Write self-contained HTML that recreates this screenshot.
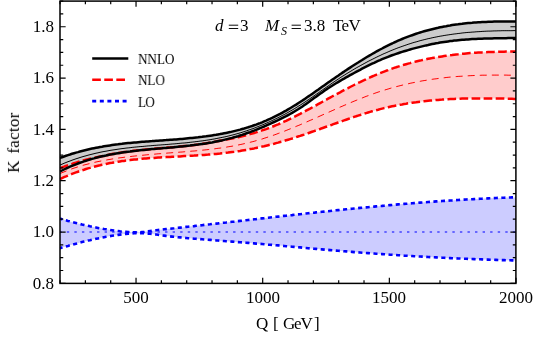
<!DOCTYPE html>
<html><head><meta charset="utf-8"><title>K factor</title>
<style>
html,body{margin:0;padding:0;background:#fff;}
body{width:545px;height:339px;position:relative;overflow:hidden;font-family:"Liberation Serif",serif;color:#000;}
.t{position:absolute;white-space:pre;line-height:1;font-size:16px;will-change:transform;}
.yl{width:40px;text-align:right;left:13.6px;}
.xl{width:60px;text-align:center;}
.lg{font-size:13px;left:137.7px;}
</style></head><body>

<svg width="545" height="339" viewBox="0 0 545 339" style="position:absolute;left:0;top:0">
<defs><clipPath id="cp"><rect x="59.75" y="1.09" width="456.85" height="282.26"/></clipPath></defs>
<g clip-path="url(#cp)" fill="none" stroke-linecap="butt" stroke-linejoin="round">
<path d="M60.0,218.6 62.0,219.2 64.0,219.8 66.0,220.3 68.0,220.9 70.0,221.4 72.0,222.0 74.0,222.5 76.0,223.0 78.0,223.5 80.0,224.0 82.0,224.5 84.0,224.9 86.0,225.4 88.0,225.8 90.0,226.3 92.0,226.7 94.0,227.1 96.0,227.5 98.0,227.9 100.0,228.3 102.0,228.6 104.0,229.0 106.0,229.3 108.0,229.6 110.0,229.9 112.0,230.2 114.0,230.5 116.0,230.8 118.0,231.0 120.0,231.3 122.0,231.5 124.0,231.7 126.0,231.8 128.1,232.0 130.1,232.1 132.1,232.2 134.1,232.2 136.1,232.3 138.1,232.2 140.1,232.2 142.1,232.0 144.1,231.9 146.1,231.6 148.1,231.4 150.1,231.1 152.1,230.8 154.1,230.6 156.1,230.3 158.1,230.0 160.1,229.8 162.1,229.6 164.1,229.3 166.1,229.1 168.1,228.9 170.1,228.7 172.1,228.5 174.1,228.3 176.1,228.0 178.1,227.8 180.1,227.6 182.1,227.4 184.1,227.2 186.1,226.9 188.1,226.7 190.1,226.5 192.1,226.3 194.1,226.1 196.1,225.8 198.1,225.6 200.1,225.4 202.1,225.2 204.1,224.9 206.1,224.7 208.1,224.5 210.1,224.3 212.1,224.0 214.1,223.8 216.1,223.6 218.1,223.4 220.1,223.1 222.1,222.9 224.1,222.7 226.1,222.5 228.1,222.2 230.1,222.0 232.1,221.8 234.1,221.6 236.1,221.3 238.1,221.1 240.1,220.9 242.1,220.7 244.1,220.4 246.1,220.2 248.1,220.0 250.1,219.8 252.1,219.5 254.1,219.3 256.1,219.1 258.1,218.8 260.1,218.6 262.1,218.4 264.1,218.2 266.1,217.9 268.1,217.7 270.1,217.5 272.1,217.3 274.1,217.1 276.1,216.8 278.1,216.6 280.1,216.4 282.1,216.2 284.1,215.9 286.1,215.7 288.1,215.5 290.1,215.3 292.1,215.1 294.1,214.8 296.1,214.6 298.1,214.4 300.1,214.2 302.1,214.0 304.1,213.7 306.1,213.5 308.1,213.3 310.1,213.1 312.1,212.9 314.1,212.7 316.1,212.4 318.1,212.2 320.1,212.0 322.1,211.8 324.1,211.6 326.1,211.4 328.1,211.2 330.1,211.0 332.1,210.8 334.1,210.5 336.1,210.3 338.1,210.1 340.1,209.9 342.1,209.7 344.1,209.5 346.1,209.3 348.1,209.1 350.1,208.9 352.1,208.7 354.1,208.5 356.1,208.3 358.1,208.1 360.1,207.9 362.1,207.7 364.1,207.5 366.1,207.4 368.1,207.2 370.1,207.0 372.1,206.8 374.1,206.6 376.1,206.4 378.1,206.2 380.1,206.0 382.1,205.9 384.1,205.7 386.1,205.5 388.1,205.3 390.1,205.1 392.1,205.0 394.1,204.8 396.1,204.6 398.1,204.4 400.1,204.3 402.1,204.1 404.1,203.9 406.1,203.8 408.1,203.6 410.1,203.4 412.1,203.3 414.1,203.1 416.1,203.0 418.1,202.8 420.1,202.6 422.1,202.5 424.1,202.3 426.1,202.2 428.1,202.0 430.1,201.9 432.1,201.7 434.1,201.6 436.1,201.4 438.1,201.3 440.1,201.2 442.1,201.0 444.1,200.9 446.1,200.8 448.1,200.6 450.1,200.5 452.1,200.4 454.1,200.2 456.1,200.1 458.1,200.0 460.1,199.9 462.1,199.7 464.1,199.6 466.1,199.5 468.1,199.4 470.1,199.3 472.1,199.2 474.1,199.1 476.1,199.0 478.1,198.9 480.1,198.8 482.1,198.7 484.1,198.6 486.1,198.5 488.1,198.4 490.1,198.3 492.1,198.2 494.1,198.1 496.1,198.0 498.1,197.9 500.1,197.9 502.1,197.8 504.1,197.7 506.1,197.6 508.1,197.6 510.1,197.5 512.0,197.4 514.0,197.4 516.0,197.3 L516.0,260.5 514.0,260.4 512.0,260.4 510.1,260.3 508.1,260.3 506.1,260.2 504.1,260.1 502.1,260.1 500.1,260.0 498.1,260.0 496.1,259.9 494.1,259.8 492.1,259.8 490.1,259.7 488.1,259.6 486.1,259.6 484.1,259.5 482.1,259.4 480.1,259.3 478.1,259.3 476.1,259.2 474.1,259.1 472.1,259.0 470.1,259.0 468.1,258.9 466.1,258.8 464.1,258.7 462.1,258.6 460.1,258.5 458.1,258.5 456.1,258.4 454.1,258.3 452.1,258.2 450.1,258.1 448.1,258.0 446.1,257.9 444.1,257.8 442.1,257.7 440.1,257.6 438.1,257.5 436.1,257.4 434.1,257.3 432.1,257.2 430.1,257.1 428.1,257.0 426.1,256.9 424.1,256.7 422.1,256.6 420.1,256.5 418.1,256.4 416.1,256.3 414.1,256.2 412.1,256.0 410.1,255.9 408.1,255.8 406.1,255.7 404.1,255.6 402.1,255.4 400.1,255.3 398.1,255.2 396.1,255.0 394.1,254.9 392.1,254.8 390.1,254.7 388.1,254.5 386.1,254.4 384.1,254.2 382.1,254.1 380.1,254.0 378.1,253.8 376.1,253.7 374.1,253.5 372.1,253.4 370.1,253.3 368.1,253.1 366.1,253.0 364.1,252.8 362.1,252.7 360.1,252.5 358.1,252.4 356.1,252.2 354.1,252.1 352.1,251.9 350.1,251.7 348.1,251.6 346.1,251.4 344.1,251.3 342.1,251.1 340.1,250.9 338.1,250.8 336.1,250.6 334.1,250.4 332.1,250.3 330.1,250.1 328.1,249.9 326.1,249.8 324.1,249.6 322.1,249.4 320.1,249.2 318.1,249.1 316.1,248.9 314.1,248.7 312.1,248.5 310.1,248.4 308.1,248.2 306.1,248.0 304.1,247.8 302.1,247.6 300.1,247.4 298.1,247.3 296.1,247.1 294.1,246.9 292.1,246.7 290.1,246.5 288.1,246.3 286.1,246.2 284.1,246.0 282.1,245.8 280.1,245.6 278.1,245.4 276.1,245.3 274.1,245.1 272.1,244.9 270.1,244.7 268.1,244.6 266.1,244.4 264.1,244.2 262.1,244.0 260.1,243.9 258.1,243.7 256.1,243.6 254.1,243.4 252.1,243.2 250.1,243.1 248.1,242.9 246.1,242.7 244.1,242.6 242.1,242.4 240.1,242.3 238.1,242.1 236.1,242.0 234.1,241.8 232.1,241.6 230.1,241.5 228.1,241.3 226.1,241.2 224.1,241.0 222.1,240.9 220.1,240.7 218.1,240.5 216.1,240.4 214.1,240.2 212.1,240.1 210.1,239.9 208.1,239.8 206.1,239.6 204.1,239.5 202.1,239.3 200.1,239.1 198.1,239.0 196.1,238.8 194.1,238.7 192.1,238.5 190.1,238.3 188.1,238.2 186.1,238.0 184.1,237.8 182.1,237.6 180.1,237.4 178.1,237.2 176.1,237.0 174.1,236.8 172.1,236.6 170.1,236.4 168.1,236.1 166.1,235.9 164.1,235.6 162.1,235.4 160.1,235.1 158.1,234.8 156.1,234.5 154.1,234.3 152.1,234.0 150.1,233.8 148.1,233.6 146.1,233.5 144.1,233.3 142.1,233.2 140.1,233.2 138.1,233.2 136.1,233.2 134.1,233.3 132.1,233.4 130.1,233.5 128.1,233.7 126.0,233.9 124.0,234.1 122.0,234.3 120.0,234.6 118.0,234.9 116.0,235.2 114.0,235.5 112.0,235.8 110.0,236.1 108.0,236.5 106.0,236.8 104.0,237.2 102.0,237.6 100.0,238.0 98.0,238.4 96.0,238.8 94.0,239.3 92.0,239.7 90.0,240.2 88.0,240.6 86.0,241.1 84.0,241.6 82.0,242.1 80.0,242.6 78.0,243.2 76.0,243.7 74.0,244.2 72.0,244.8 70.0,245.3 68.0,245.9 66.0,246.4 64.0,247.0 62.0,247.6 60.0,248.2Z" fill="#ccccff" stroke="none"/>
<path d="M60.0,168.2 62.0,167.4 64.0,166.7 66.0,165.9 68.0,165.2 70.0,164.5 72.0,163.9 74.0,163.2 76.0,162.6 78.0,162.0 80.0,161.4 82.0,160.8 84.0,160.2 86.0,159.7 88.0,159.2 90.0,158.7 92.0,158.3 94.0,157.9 96.0,157.4 98.0,157.0 100.0,156.6 102.0,156.2 104.0,155.7 106.0,155.3 108.0,154.9 110.0,154.5 112.0,154.1 114.0,153.7 116.0,153.4 118.0,153.1 120.0,152.7 122.0,152.4 124.0,152.1 126.0,151.9 128.1,151.6 130.1,151.3 132.1,151.1 134.1,150.8 136.1,150.6 138.1,150.4 140.1,150.2 142.1,150.0 144.1,149.8 146.1,149.6 148.1,149.4 150.1,149.2 152.1,149.0 154.1,148.8 156.1,148.6 158.1,148.5 160.1,148.3 162.1,148.1 164.1,147.9 166.1,147.8 168.1,147.6 170.1,147.4 172.1,147.2 174.1,147.1 176.1,146.9 178.1,146.7 180.1,146.5 182.1,146.3 184.1,146.1 186.1,145.9 188.1,145.7 190.1,145.4 192.1,145.2 194.1,144.9 196.1,144.7 198.1,144.4 200.1,144.2 202.1,143.9 204.1,143.6 206.1,143.3 208.1,142.9 210.1,142.6 212.1,142.2 214.1,141.8 216.1,141.5 218.1,141.1 220.1,140.7 222.1,140.3 224.1,139.9 226.1,139.6 228.1,139.2 230.1,138.8 232.1,138.5 234.1,138.0 236.1,137.6 238.1,137.2 240.1,136.7 242.1,136.2 244.1,135.7 246.1,135.2 248.1,134.7 250.1,134.1 252.1,133.6 254.1,133.0 256.1,132.4 258.1,131.7 260.1,131.1 262.1,130.4 264.1,129.8 266.1,129.1 268.1,128.3 270.1,127.6 272.1,126.8 274.1,126.0 276.1,125.2 278.1,124.4 280.1,123.5 282.1,122.6 284.1,121.7 286.1,120.8 288.1,119.8 290.1,118.9 292.1,117.9 294.1,116.9 296.1,115.9 298.1,114.9 300.1,113.9 302.1,112.8 304.1,111.8 306.1,110.7 308.1,109.6 310.1,108.6 312.1,107.5 314.1,106.4 316.1,105.3 318.1,104.2 320.1,103.1 322.1,102.0 324.1,100.9 326.1,99.8 328.1,98.7 330.1,97.6 332.1,96.5 334.1,95.5 336.1,94.4 338.1,93.3 340.1,92.3 342.1,91.2 344.1,90.1 346.1,89.1 348.1,88.1 350.1,87.0 352.1,86.0 354.1,85.0 356.1,84.0 358.1,83.0 360.1,82.1 362.1,81.1 364.1,80.2 366.1,79.2 368.1,78.3 370.1,77.4 372.1,76.5 374.1,75.7 376.1,74.8 378.1,74.0 380.1,73.2 382.1,72.4 384.1,71.6 386.1,70.8 388.1,70.1 390.1,69.3 392.1,68.6 394.1,67.9 396.1,67.3 398.1,66.6 400.1,66.0 402.1,65.4 404.1,64.8 406.1,64.2 408.1,63.6 410.1,63.1 412.1,62.5 414.1,62.0 416.1,61.5 418.1,61.0 420.1,60.6 422.1,60.1 424.1,59.7 426.1,59.3 428.1,58.8 430.1,58.4 432.1,58.1 434.1,57.7 436.1,57.3 438.1,57.0 440.1,56.7 442.1,56.4 444.1,56.1 446.1,55.8 448.1,55.5 450.1,55.2 452.1,55.0 454.1,54.7 456.1,54.5 458.1,54.3 460.1,54.0 462.1,53.8 464.1,53.7 466.1,53.5 468.1,53.3 470.1,53.1 472.1,53.0 474.1,52.8 476.1,52.7 478.1,52.6 480.1,52.5 482.1,52.4 484.1,52.3 486.1,52.2 488.1,52.1 490.1,52.0 492.1,51.9 494.1,51.9 496.1,51.8 498.1,51.8 500.1,51.7 502.1,51.7 504.1,51.7 506.1,51.6 508.1,51.6 510.1,51.6 512.0,51.6 514.0,51.6 516.0,51.6 L516.0,98.9 514.0,98.9 512.0,98.8 510.1,98.8 508.1,98.7 506.1,98.7 504.1,98.6 502.1,98.6 500.1,98.6 498.1,98.5 496.1,98.5 494.1,98.5 492.1,98.5 490.1,98.4 488.1,98.4 486.1,98.4 484.1,98.4 482.1,98.4 480.1,98.4 478.1,98.4 476.1,98.4 474.1,98.4 472.1,98.4 470.1,98.5 468.1,98.5 466.1,98.5 464.1,98.6 462.1,98.6 460.1,98.7 458.1,98.8 456.1,98.8 454.1,98.9 452.1,99.0 450.1,99.1 448.1,99.2 446.1,99.3 444.1,99.4 442.1,99.6 440.1,99.7 438.1,99.9 436.1,100.0 434.1,100.2 432.1,100.4 430.1,100.6 428.1,100.8 426.1,101.0 424.1,101.2 422.1,101.4 420.1,101.7 418.1,101.9 416.1,102.2 414.1,102.4 412.1,102.7 410.1,103.0 408.1,103.3 406.1,103.7 404.1,104.0 402.1,104.4 400.1,104.7 398.1,105.1 396.1,105.5 394.1,105.9 392.1,106.3 390.1,106.7 388.1,107.2 386.1,107.7 384.1,108.1 382.1,108.6 380.1,109.1 378.1,109.7 376.1,110.2 374.1,110.7 372.1,111.3 370.1,111.9 368.1,112.5 366.1,113.1 364.1,113.7 362.1,114.3 360.1,115.0 358.1,115.6 356.1,116.3 354.1,116.9 352.1,117.6 350.1,118.3 348.1,119.0 346.1,119.7 344.1,120.4 342.1,121.1 340.1,121.8 338.1,122.5 336.1,123.2 334.1,123.9 332.1,124.7 330.1,125.4 328.1,126.1 326.1,126.8 324.1,127.5 322.1,128.2 320.1,129.0 318.1,129.7 316.1,130.4 314.1,131.1 312.1,131.8 310.1,132.5 308.1,133.2 306.1,133.9 304.1,134.6 302.1,135.2 300.1,135.9 298.1,136.5 296.1,137.2 294.1,137.8 292.1,138.5 290.1,139.1 288.1,139.7 286.1,140.3 284.1,140.9 282.1,141.5 280.1,142.0 278.1,142.6 276.1,143.1 274.1,143.7 272.1,144.2 270.1,144.7 268.1,145.2 266.1,145.7 264.1,146.2 262.1,146.6 260.1,147.1 258.1,147.5 256.1,147.9 254.1,148.4 252.1,148.8 250.1,149.1 248.1,149.5 246.1,149.9 244.1,150.2 242.1,150.5 240.1,150.9 238.1,151.2 236.1,151.5 234.1,151.8 232.1,152.0 230.1,152.3 228.1,152.6 226.1,152.8 224.1,153.0 222.1,153.2 220.1,153.5 218.1,153.7 216.1,153.9 214.1,154.1 212.1,154.2 210.1,154.4 208.1,154.6 206.1,154.7 204.1,154.9 202.1,155.0 200.1,155.2 198.1,155.3 196.1,155.4 194.1,155.6 192.1,155.7 190.1,155.8 188.1,155.9 186.1,156.0 184.1,156.1 182.1,156.2 180.1,156.4 178.1,156.5 176.1,156.6 174.1,156.7 172.1,156.8 170.1,156.9 168.1,157.0 166.1,157.1 164.1,157.2 162.1,157.3 160.1,157.5 158.1,157.6 156.1,157.7 154.1,157.9 152.1,158.0 150.1,158.1 148.1,158.3 146.1,158.5 144.1,158.6 142.1,158.8 140.1,159.0 138.1,159.2 136.1,159.4 134.1,159.6 132.1,159.8 130.1,160.1 128.1,160.3 126.0,160.6 124.0,160.9 122.0,161.1 120.0,161.4 118.0,161.7 116.0,162.1 114.0,162.4 112.0,162.8 110.0,163.1 108.0,163.5 106.0,163.9 104.0,164.4 102.0,164.8 100.0,165.3 98.0,165.7 96.0,166.2 94.0,166.8 92.0,167.3 90.0,167.9 88.0,168.4 86.0,169.0 84.0,169.7 82.0,170.3 80.0,171.0 78.0,171.7 76.0,172.4 74.0,173.1 72.0,173.9 70.0,174.7 68.0,175.5 66.0,176.4 64.0,177.2 62.0,178.1 60.0,179.1Z" fill="#ffcccc" stroke="none"/>
<path d="M60.0,158.0 62.0,157.2 64.0,156.5 66.0,155.8 68.0,155.1 70.0,154.5 72.0,153.8 74.0,153.2 76.0,152.6 78.0,152.1 80.0,151.5 82.0,151.0 84.0,150.5 86.0,150.0 88.0,149.5 90.0,149.0 92.0,148.6 94.0,148.2 96.0,147.8 98.0,147.4 100.0,147.0 102.0,146.7 104.0,146.3 106.0,146.0 108.0,145.7 110.0,145.4 112.0,145.1 114.0,144.8 116.0,144.5 118.0,144.3 120.0,144.0 122.0,143.8 124.0,143.5 126.0,143.3 128.1,143.1 130.1,142.9 132.1,142.7 134.1,142.5 136.1,142.4 138.1,142.2 140.1,142.0 142.1,141.8 144.1,141.7 146.1,141.5 148.1,141.4 150.1,141.2 152.1,141.1 154.1,140.9 156.1,140.8 158.1,140.7 160.1,140.5 162.1,140.4 164.1,140.2 166.1,140.1 168.1,139.9 170.1,139.8 172.1,139.7 174.1,139.5 176.1,139.4 178.1,139.2 180.1,139.0 182.1,138.9 184.1,138.7 186.1,138.5 188.1,138.3 190.1,138.1 192.1,137.9 194.1,137.7 196.1,137.5 198.1,137.3 200.1,137.0 202.1,136.8 204.1,136.5 206.1,136.3 208.1,136.0 210.1,135.7 212.1,135.4 214.1,135.1 216.1,134.8 218.1,134.4 220.1,134.1 222.1,133.7 224.1,133.3 226.1,132.9 228.1,132.5 230.1,132.1 232.1,131.6 234.1,131.1 236.1,130.6 238.1,130.1 240.1,129.6 242.1,129.0 244.1,128.5 246.1,127.9 248.1,127.3 250.1,126.6 252.1,126.0 254.1,125.3 256.1,124.6 258.1,123.8 260.1,123.1 262.1,122.3 264.1,121.4 266.1,120.6 268.1,119.7 270.1,118.8 272.1,117.9 274.1,116.9 276.1,115.9 278.1,114.9 280.1,113.9 282.1,112.8 284.1,111.7 286.1,110.6 288.1,109.4 290.1,108.2 292.1,107.0 294.1,105.8 296.1,104.6 298.1,103.3 300.1,102.0 302.1,100.7 304.1,99.4 306.1,98.0 308.1,96.6 310.1,95.3 312.1,93.9 314.1,92.5 316.1,91.1 318.1,89.7 320.1,88.2 322.1,86.8 324.1,85.4 326.1,84.0 328.1,82.6 330.1,81.2 332.1,79.8 334.1,78.4 336.1,77.0 338.1,75.7 340.1,74.3 342.1,72.9 344.1,71.6 346.1,70.2 348.1,68.9 350.1,67.6 352.1,66.3 354.1,65.0 356.1,63.7 358.1,62.5 360.1,61.2 362.1,60.0 364.1,58.7 366.1,57.5 368.1,56.3 370.1,55.2 372.1,54.0 374.1,52.9 376.1,51.7 378.1,50.6 380.1,49.5 382.1,48.5 384.1,47.4 386.1,46.4 388.1,45.4 390.1,44.4 392.1,43.5 394.1,42.5 396.1,41.6 398.1,40.7 400.1,39.8 402.1,39.0 404.1,38.2 406.1,37.4 408.1,36.6 410.1,35.9 412.1,35.2 414.1,34.5 416.1,33.8 418.1,33.1 420.1,32.5 422.1,31.9 424.1,31.3 426.1,30.7 428.1,30.2 430.1,29.7 432.1,29.2 434.1,28.7 436.1,28.2 438.1,27.8 440.1,27.3 442.1,26.9 444.1,26.5 446.1,26.2 448.1,25.8 450.1,25.5 452.1,25.1 454.1,24.8 456.1,24.5 458.1,24.3 460.1,24.0 462.1,23.8 464.1,23.5 466.1,23.3 468.1,23.1 470.1,22.9 472.1,22.8 474.1,22.6 476.1,22.4 478.1,22.3 480.1,22.2 482.1,22.1 484.1,22.0 486.1,21.9 488.1,21.8 490.1,21.7 492.1,21.7 494.1,21.6 496.1,21.6 498.1,21.5 500.1,21.5 502.1,21.5 504.1,21.5 506.1,21.5 508.1,21.5 510.1,21.5 512.0,21.6 514.0,21.6 516.0,21.6 L516.0,38.0 514.0,38.1 512.0,38.1 510.1,38.1 508.1,38.1 506.1,38.2 504.1,38.2 502.1,38.2 500.1,38.2 498.1,38.3 496.1,38.3 494.1,38.3 492.1,38.4 490.1,38.4 488.1,38.5 486.1,38.5 484.1,38.6 482.1,38.7 480.1,38.7 478.1,38.8 476.1,38.9 474.1,39.0 472.1,39.1 470.1,39.2 468.1,39.4 466.1,39.5 464.1,39.7 462.1,39.8 460.1,40.0 458.1,40.2 456.1,40.4 454.1,40.6 452.1,40.9 450.1,41.1 448.1,41.4 446.1,41.7 444.1,42.0 442.1,42.3 440.1,42.6 438.1,43.0 436.1,43.3 434.1,43.7 432.1,44.1 430.1,44.5 428.1,45.0 426.1,45.4 424.1,45.9 422.1,46.4 420.1,46.9 418.1,47.4 416.1,47.9 414.1,48.4 412.1,48.9 410.1,49.5 408.1,50.1 406.1,50.7 404.1,51.3 402.1,51.9 400.1,52.5 398.1,53.2 396.1,53.9 394.1,54.6 392.1,55.3 390.1,56.0 388.1,56.8 386.1,57.6 384.1,58.4 382.1,59.2 380.1,60.1 378.1,60.9 376.1,61.8 374.1,62.8 372.1,63.7 370.1,64.7 368.1,65.7 366.1,66.7 364.1,67.7 362.1,68.7 360.1,69.8 358.1,70.8 356.1,71.9 354.1,73.0 352.1,74.1 350.1,75.2 348.1,76.3 346.1,77.4 344.1,78.6 342.1,79.7 340.1,80.9 338.1,82.1 336.1,83.3 334.1,84.5 332.1,85.7 330.1,87.0 328.1,88.3 326.1,89.6 324.1,91.0 322.1,92.4 320.1,93.8 318.1,95.2 316.1,96.7 314.1,98.1 312.1,99.6 310.1,101.0 308.1,102.5 306.1,103.9 304.1,105.3 302.1,106.7 300.1,108.0 298.1,109.3 296.1,110.5 294.1,111.7 292.1,112.9 290.1,114.0 288.1,115.1 286.1,116.2 284.1,117.2 282.1,118.2 280.1,119.2 278.1,120.2 276.1,121.1 274.1,122.0 272.1,122.9 270.1,123.8 268.1,124.7 266.1,125.6 264.1,126.5 262.1,127.3 260.1,128.1 258.1,129.0 256.1,129.8 254.1,130.6 252.1,131.3 250.1,132.1 248.1,132.8 246.1,133.5 244.1,134.2 242.1,134.9 240.1,135.5 238.1,136.2 236.1,136.8 234.1,137.3 232.1,137.9 230.1,138.4 228.1,138.9 226.1,139.4 224.1,139.9 222.1,140.4 220.1,140.8 218.1,141.2 216.1,141.6 214.1,142.0 212.1,142.4 210.1,142.7 208.1,143.1 206.1,143.4 204.1,143.7 202.1,144.0 200.1,144.3 198.1,144.6 196.1,144.8 194.1,145.1 192.1,145.3 190.1,145.6 188.1,145.8 186.1,146.0 184.1,146.2 182.1,146.4 180.1,146.6 178.1,146.8 176.1,147.0 174.1,147.2 172.1,147.4 170.1,147.6 168.1,147.7 166.1,147.9 164.1,148.1 162.1,148.3 160.1,148.4 158.1,148.6 156.1,148.8 154.1,149.0 152.1,149.1 150.1,149.3 148.1,149.5 146.1,149.7 144.1,149.9 142.1,150.1 140.1,150.3 138.1,150.5 136.1,150.8 134.1,151.0 132.1,151.2 130.1,151.5 128.1,151.7 126.0,152.0 124.0,152.3 122.0,152.6 120.0,152.9 118.0,153.2 116.0,153.5 114.0,153.9 112.0,154.3 110.0,154.6 108.0,155.0 106.0,155.5 104.0,155.9 102.0,156.3 100.0,156.8 98.0,157.3 96.0,157.8 94.0,158.4 92.0,158.9 90.0,159.5 88.0,160.1 86.0,160.7 84.0,161.4 82.0,162.1 80.0,162.8 78.0,163.5 76.0,164.3 74.0,165.1 72.0,165.9 70.0,166.7 68.0,167.6 66.0,168.5 64.0,169.5 62.0,170.5 60.0,171.5Z" fill="#cccccc" stroke="none"/>
<path d="M60.0,232.0 L516.0,232.0" stroke="#0000ff" stroke-width="1.05" stroke-dasharray="2.4 5.16" stroke-dashoffset="0.76"/>
<path d="M60.0,218.6 62.0,219.2 64.0,219.8 66.0,220.3 68.0,220.9 70.0,221.4 72.0,222.0 74.0,222.5 76.0,223.0 78.0,223.5 80.0,224.0 82.0,224.5 84.0,224.9 86.0,225.4 88.0,225.8 90.0,226.3 92.0,226.7 94.0,227.1 96.0,227.5 98.0,227.9 100.0,228.3 102.0,228.6 104.0,229.0 106.0,229.3 108.0,229.6 110.0,229.9 112.0,230.2 114.0,230.5 116.0,230.8 118.0,231.0 120.0,231.3 122.0,231.5 124.0,231.7 126.0,231.8 128.1,232.0 130.1,232.1 132.1,232.2 134.1,232.2 136.1,232.3 138.1,232.2 140.1,232.2 142.1,232.0 144.1,231.9 146.1,231.6 148.1,231.4 150.1,231.1 152.1,230.8 154.1,230.6 156.1,230.3 158.1,230.0 160.1,229.8 162.1,229.6 164.1,229.3 166.1,229.1 168.1,228.9 170.1,228.7 172.1,228.5 174.1,228.3 176.1,228.0 178.1,227.8 180.1,227.6 182.1,227.4 184.1,227.2 186.1,226.9 188.1,226.7 190.1,226.5 192.1,226.3 194.1,226.1 196.1,225.8 198.1,225.6 200.1,225.4 202.1,225.2 204.1,224.9 206.1,224.7 208.1,224.5 210.1,224.3 212.1,224.0 214.1,223.8 216.1,223.6 218.1,223.4 220.1,223.1 222.1,222.9 224.1,222.7 226.1,222.5 228.1,222.2 230.1,222.0 232.1,221.8 234.1,221.6 236.1,221.3 238.1,221.1 240.1,220.9 242.1,220.7 244.1,220.4 246.1,220.2 248.1,220.0 250.1,219.8 252.1,219.5 254.1,219.3 256.1,219.1 258.1,218.8 260.1,218.6 262.1,218.4 264.1,218.2 266.1,217.9 268.1,217.7 270.1,217.5 272.1,217.3 274.1,217.1 276.1,216.8 278.1,216.6 280.1,216.4 282.1,216.2 284.1,215.9 286.1,215.7 288.1,215.5 290.1,215.3 292.1,215.1 294.1,214.8 296.1,214.6 298.1,214.4 300.1,214.2 302.1,214.0 304.1,213.7 306.1,213.5 308.1,213.3 310.1,213.1 312.1,212.9 314.1,212.7 316.1,212.4 318.1,212.2 320.1,212.0 322.1,211.8 324.1,211.6 326.1,211.4 328.1,211.2 330.1,211.0 332.1,210.8 334.1,210.5 336.1,210.3 338.1,210.1 340.1,209.9 342.1,209.7 344.1,209.5 346.1,209.3 348.1,209.1 350.1,208.9 352.1,208.7 354.1,208.5 356.1,208.3 358.1,208.1 360.1,207.9 362.1,207.7 364.1,207.5 366.1,207.4 368.1,207.2 370.1,207.0 372.1,206.8 374.1,206.6 376.1,206.4 378.1,206.2 380.1,206.0 382.1,205.9 384.1,205.7 386.1,205.5 388.1,205.3 390.1,205.1 392.1,205.0 394.1,204.8 396.1,204.6 398.1,204.4 400.1,204.3 402.1,204.1 404.1,203.9 406.1,203.8 408.1,203.6 410.1,203.4 412.1,203.3 414.1,203.1 416.1,203.0 418.1,202.8 420.1,202.6 422.1,202.5 424.1,202.3 426.1,202.2 428.1,202.0 430.1,201.9 432.1,201.7 434.1,201.6 436.1,201.4 438.1,201.3 440.1,201.2 442.1,201.0 444.1,200.9 446.1,200.8 448.1,200.6 450.1,200.5 452.1,200.4 454.1,200.2 456.1,200.1 458.1,200.0 460.1,199.9 462.1,199.7 464.1,199.6 466.1,199.5 468.1,199.4 470.1,199.3 472.1,199.2 474.1,199.1 476.1,199.0 478.1,198.9 480.1,198.8 482.1,198.7 484.1,198.6 486.1,198.5 488.1,198.4 490.1,198.3 492.1,198.2 494.1,198.1 496.1,198.0 498.1,197.9 500.1,197.9 502.1,197.8 504.1,197.7 506.1,197.6 508.1,197.6 510.1,197.5 512.0,197.4 514.0,197.4 516.0,197.3" stroke="#0000ff" stroke-width="2.6" stroke-dasharray="4.1 3.46" stroke-dashoffset="1.46"/>
<path d="M60.0,248.2 62.0,247.6 64.0,247.0 66.0,246.4 68.0,245.9 70.0,245.3 72.0,244.8 74.0,244.2 76.0,243.7 78.0,243.2 80.0,242.6 82.0,242.1 84.0,241.6 86.0,241.1 88.0,240.6 90.0,240.2 92.0,239.7 94.0,239.3 96.0,238.8 98.0,238.4 100.0,238.0 102.0,237.6 104.0,237.2 106.0,236.8 108.0,236.5 110.0,236.1 112.0,235.8 114.0,235.5 116.0,235.2 118.0,234.9 120.0,234.6 122.0,234.3 124.0,234.1 126.0,233.9 128.1,233.7 130.1,233.5 132.1,233.4 134.1,233.3 136.1,233.2 138.1,233.2 140.1,233.2 142.1,233.2 144.1,233.3 146.1,233.5 148.1,233.6 150.1,233.8 152.1,234.0 154.1,234.3 156.1,234.5 158.1,234.8 160.1,235.1 162.1,235.4 164.1,235.6 166.1,235.9 168.1,236.1 170.1,236.4 172.1,236.6 174.1,236.8 176.1,237.0 178.1,237.2 180.1,237.4 182.1,237.6 184.1,237.8 186.1,238.0 188.1,238.2 190.1,238.3 192.1,238.5 194.1,238.7 196.1,238.8 198.1,239.0 200.1,239.1 202.1,239.3 204.1,239.5 206.1,239.6 208.1,239.8 210.1,239.9 212.1,240.1 214.1,240.2 216.1,240.4 218.1,240.5 220.1,240.7 222.1,240.9 224.1,241.0 226.1,241.2 228.1,241.3 230.1,241.5 232.1,241.6 234.1,241.8 236.1,242.0 238.1,242.1 240.1,242.3 242.1,242.4 244.1,242.6 246.1,242.7 248.1,242.9 250.1,243.1 252.1,243.2 254.1,243.4 256.1,243.6 258.1,243.7 260.1,243.9 262.1,244.0 264.1,244.2 266.1,244.4 268.1,244.6 270.1,244.7 272.1,244.9 274.1,245.1 276.1,245.3 278.1,245.4 280.1,245.6 282.1,245.8 284.1,246.0 286.1,246.2 288.1,246.3 290.1,246.5 292.1,246.7 294.1,246.9 296.1,247.1 298.1,247.3 300.1,247.4 302.1,247.6 304.1,247.8 306.1,248.0 308.1,248.2 310.1,248.4 312.1,248.5 314.1,248.7 316.1,248.9 318.1,249.1 320.1,249.2 322.1,249.4 324.1,249.6 326.1,249.8 328.1,249.9 330.1,250.1 332.1,250.3 334.1,250.4 336.1,250.6 338.1,250.8 340.1,250.9 342.1,251.1 344.1,251.3 346.1,251.4 348.1,251.6 350.1,251.7 352.1,251.9 354.1,252.1 356.1,252.2 358.1,252.4 360.1,252.5 362.1,252.7 364.1,252.8 366.1,253.0 368.1,253.1 370.1,253.3 372.1,253.4 374.1,253.5 376.1,253.7 378.1,253.8 380.1,254.0 382.1,254.1 384.1,254.2 386.1,254.4 388.1,254.5 390.1,254.7 392.1,254.8 394.1,254.9 396.1,255.0 398.1,255.2 400.1,255.3 402.1,255.4 404.1,255.6 406.1,255.7 408.1,255.8 410.1,255.9 412.1,256.0 414.1,256.2 416.1,256.3 418.1,256.4 420.1,256.5 422.1,256.6 424.1,256.7 426.1,256.9 428.1,257.0 430.1,257.1 432.1,257.2 434.1,257.3 436.1,257.4 438.1,257.5 440.1,257.6 442.1,257.7 444.1,257.8 446.1,257.9 448.1,258.0 450.1,258.1 452.1,258.2 454.1,258.3 456.1,258.4 458.1,258.5 460.1,258.5 462.1,258.6 464.1,258.7 466.1,258.8 468.1,258.9 470.1,259.0 472.1,259.0 474.1,259.1 476.1,259.2 478.1,259.3 480.1,259.3 482.1,259.4 484.1,259.5 486.1,259.6 488.1,259.6 490.1,259.7 492.1,259.8 494.1,259.8 496.1,259.9 498.1,260.0 500.1,260.0 502.1,260.1 504.1,260.1 506.1,260.2 508.1,260.3 510.1,260.3 512.0,260.4 514.0,260.4 516.0,260.5" stroke="#0000ff" stroke-width="2.6" stroke-dasharray="4.1 3.46" stroke-dashoffset="1.46"/>
<path d="M60.0,173.5 62.0,172.7 64.0,171.9 66.0,171.1 68.0,170.3 70.0,169.5 72.0,168.8 74.0,168.1 76.0,167.5 78.0,166.8 80.0,166.2 82.0,165.6 84.0,165.0 86.0,164.5 88.0,164.0 90.0,163.5 92.0,163.0 94.0,162.5 96.0,162.0 98.0,161.6 100.0,161.2 102.0,160.8 104.0,160.4 106.0,160.1 108.0,159.7 110.0,159.4 112.0,159.0 114.0,158.7 116.0,158.4 118.0,158.1 120.0,157.8 122.0,157.6 124.0,157.3 126.0,157.0 128.1,156.8 130.1,156.6 132.1,156.3 134.1,156.1 136.1,155.9 138.1,155.7 140.1,155.5 142.1,155.3 144.1,155.1 146.1,154.9 148.1,154.7 150.1,154.5 152.1,154.3 154.1,154.2 156.1,154.0 158.1,153.8 160.1,153.7 162.1,153.5 164.1,153.4 166.1,153.2 168.1,153.0 170.1,152.9 172.1,152.7 174.1,152.6 176.1,152.4 178.1,152.3 180.1,152.1 182.1,152.0 184.1,151.8 186.1,151.6 188.1,151.5 190.1,151.3 192.1,151.1 194.1,151.0 196.1,150.8 198.1,150.6 200.1,150.4 202.1,150.2 204.1,150.0 206.1,149.8 208.1,149.6 210.1,149.3 212.1,149.1 214.1,148.9 216.1,148.6 218.1,148.3 220.1,148.1 222.1,147.8 224.1,147.5 226.1,147.2 228.1,146.8 230.1,146.5 232.1,146.2 234.1,145.8 236.1,145.4 238.1,145.0 240.1,144.6 242.1,144.2 244.1,143.7 246.1,143.3 248.1,142.8 250.1,142.3 252.1,141.8 254.1,141.3 256.1,140.7 258.1,140.1 260.1,139.6 262.1,139.0 264.1,138.3 266.1,137.7 268.1,137.0 270.1,136.4 272.1,135.7 274.1,135.0 276.1,134.3 278.1,133.5 280.1,132.8 282.1,132.0 284.1,131.3 286.1,130.5 288.1,129.7 290.1,128.9 292.1,128.1 294.1,127.3 296.1,126.4 298.1,125.6 300.1,124.8 302.1,123.9 304.1,123.1 306.1,122.2 308.1,121.3 310.1,120.4 312.1,119.6 314.1,118.7 316.1,117.8 318.1,116.9 320.1,116.0 322.1,115.1 324.1,114.2 326.1,113.3 328.1,112.5 330.1,111.6 332.1,110.7 334.1,109.8 336.1,108.9 338.1,108.0 340.1,107.1 342.1,106.3 344.1,105.4 346.1,104.6 348.1,103.7 350.1,102.9 352.1,102.0 354.1,101.2 356.1,100.4 358.1,99.6 360.1,98.8 362.1,98.0 364.1,97.2 366.1,96.4 368.1,95.7 370.1,94.9 372.1,94.2 374.1,93.5 376.1,92.8 378.1,92.1 380.1,91.5 382.1,90.8 384.1,90.2 386.1,89.6 388.1,89.0 390.1,88.4 392.1,87.8 394.1,87.2 396.1,86.7 398.1,86.2 400.1,85.7 402.1,85.2 404.1,84.7 406.1,84.2 408.1,83.8 410.1,83.3 412.1,82.9 414.1,82.5 416.1,82.1 418.1,81.7 420.1,81.3 422.1,80.9 424.1,80.6 426.1,80.3 428.1,79.9 430.1,79.6 432.1,79.3 434.1,79.0 436.1,78.8 438.1,78.5 440.1,78.2 442.1,78.0 444.1,77.8 446.1,77.5 448.1,77.3 450.1,77.1 452.1,76.9 454.1,76.8 456.1,76.6 458.1,76.4 460.1,76.3 462.1,76.2 464.1,76.0 466.1,75.9 468.1,75.8 470.1,75.7 472.1,75.6 474.1,75.5 476.1,75.4 478.1,75.4 480.1,75.3 482.1,75.2 484.1,75.2 486.1,75.2 488.1,75.1 490.1,75.1 492.1,75.1 494.1,75.1 496.1,75.1 498.1,75.1 500.1,75.1 502.1,75.1 504.1,75.1 506.1,75.1 508.1,75.2 510.1,75.2 512.0,75.2 514.0,75.3 516.0,75.3" stroke="#ff0000" stroke-width="1" stroke-dasharray="7 5.07"/>
<path d="M60.0,168.2 62.0,167.4 64.0,166.7 66.0,165.9 68.0,165.2 70.0,164.5 72.0,163.9 74.0,163.2 76.0,162.6 78.0,162.0 80.0,161.4 82.0,160.8 84.0,160.2 86.0,159.7 88.0,159.2 90.0,158.7 92.0,158.3 94.0,157.9 96.0,157.4 98.0,157.0 100.0,156.6 102.0,156.2 104.0,155.7 106.0,155.3 108.0,154.9 110.0,154.5 112.0,154.1 114.0,153.7 116.0,153.4 118.0,153.1 120.0,152.7 122.0,152.4 124.0,152.1 126.0,151.9 128.1,151.6 130.1,151.3 132.1,151.1 134.1,150.8 136.1,150.6 138.1,150.4 140.1,150.2 142.1,150.0 144.1,149.8 146.1,149.6 148.1,149.4 150.1,149.2 152.1,149.0 154.1,148.8 156.1,148.6 158.1,148.5 160.1,148.3 162.1,148.1 164.1,147.9 166.1,147.8 168.1,147.6 170.1,147.4 172.1,147.2 174.1,147.1 176.1,146.9 178.1,146.7 180.1,146.5 182.1,146.3 184.1,146.1 186.1,145.9 188.1,145.7 190.1,145.4 192.1,145.2 194.1,144.9 196.1,144.7 198.1,144.4 200.1,144.2 202.1,143.9 204.1,143.6 206.1,143.3 208.1,142.9 210.1,142.6 212.1,142.2 214.1,141.8 216.1,141.5 218.1,141.1 220.1,140.7 222.1,140.3 224.1,139.9 226.1,139.6 228.1,139.2 230.1,138.8 232.1,138.5 234.1,138.0 236.1,137.6 238.1,137.2 240.1,136.7 242.1,136.2 244.1,135.7 246.1,135.2 248.1,134.7 250.1,134.1 252.1,133.6 254.1,133.0 256.1,132.4 258.1,131.7 260.1,131.1 262.1,130.4 264.1,129.8 266.1,129.1 268.1,128.3 270.1,127.6 272.1,126.8 274.1,126.0 276.1,125.2 278.1,124.4 280.1,123.5 282.1,122.6 284.1,121.7 286.1,120.8 288.1,119.8 290.1,118.9 292.1,117.9 294.1,116.9 296.1,115.9 298.1,114.9 300.1,113.9 302.1,112.8 304.1,111.8 306.1,110.7 308.1,109.6 310.1,108.6 312.1,107.5 314.1,106.4 316.1,105.3 318.1,104.2 320.1,103.1 322.1,102.0 324.1,100.9 326.1,99.8 328.1,98.7 330.1,97.6 332.1,96.5 334.1,95.5 336.1,94.4 338.1,93.3 340.1,92.3 342.1,91.2 344.1,90.1 346.1,89.1 348.1,88.1 350.1,87.0 352.1,86.0 354.1,85.0 356.1,84.0 358.1,83.0 360.1,82.1 362.1,81.1 364.1,80.2 366.1,79.2 368.1,78.3 370.1,77.4 372.1,76.5 374.1,75.7 376.1,74.8 378.1,74.0 380.1,73.2 382.1,72.4 384.1,71.6 386.1,70.8 388.1,70.1 390.1,69.3 392.1,68.6 394.1,67.9 396.1,67.3 398.1,66.6 400.1,66.0 402.1,65.4 404.1,64.8 406.1,64.2 408.1,63.6 410.1,63.1 412.1,62.5 414.1,62.0 416.1,61.5 418.1,61.0 420.1,60.6 422.1,60.1 424.1,59.7 426.1,59.3 428.1,58.8 430.1,58.4 432.1,58.1 434.1,57.7 436.1,57.3 438.1,57.0 440.1,56.7 442.1,56.4 444.1,56.1 446.1,55.8 448.1,55.5 450.1,55.2 452.1,55.0 454.1,54.7 456.1,54.5 458.1,54.3 460.1,54.0 462.1,53.8 464.1,53.7 466.1,53.5 468.1,53.3 470.1,53.1 472.1,53.0 474.1,52.8 476.1,52.7 478.1,52.6 480.1,52.5 482.1,52.4 484.1,52.3 486.1,52.2 488.1,52.1 490.1,52.0 492.1,51.9 494.1,51.9 496.1,51.8 498.1,51.8 500.1,51.7 502.1,51.7 504.1,51.7 506.1,51.6 508.1,51.6 510.1,51.6 512.0,51.6 514.0,51.6 516.0,51.6" stroke="#ff0000" stroke-width="2.5" stroke-dasharray="8.66 3.4"/>
<path d="M60.0,179.1 62.0,178.1 64.0,177.2 66.0,176.4 68.0,175.5 70.0,174.7 72.0,173.9 74.0,173.1 76.0,172.4 78.0,171.7 80.0,171.0 82.0,170.3 84.0,169.7 86.0,169.0 88.0,168.4 90.0,167.9 92.0,167.3 94.0,166.8 96.0,166.2 98.0,165.7 100.0,165.3 102.0,164.8 104.0,164.4 106.0,163.9 108.0,163.5 110.0,163.1 112.0,162.8 114.0,162.4 116.0,162.1 118.0,161.7 120.0,161.4 122.0,161.1 124.0,160.9 126.0,160.6 128.1,160.3 130.1,160.1 132.1,159.8 134.1,159.6 136.1,159.4 138.1,159.2 140.1,159.0 142.1,158.8 144.1,158.6 146.1,158.5 148.1,158.3 150.1,158.1 152.1,158.0 154.1,157.9 156.1,157.7 158.1,157.6 160.1,157.5 162.1,157.3 164.1,157.2 166.1,157.1 168.1,157.0 170.1,156.9 172.1,156.8 174.1,156.7 176.1,156.6 178.1,156.5 180.1,156.4 182.1,156.2 184.1,156.1 186.1,156.0 188.1,155.9 190.1,155.8 192.1,155.7 194.1,155.6 196.1,155.4 198.1,155.3 200.1,155.2 202.1,155.0 204.1,154.9 206.1,154.7 208.1,154.6 210.1,154.4 212.1,154.2 214.1,154.1 216.1,153.9 218.1,153.7 220.1,153.5 222.1,153.2 224.1,153.0 226.1,152.8 228.1,152.6 230.1,152.3 232.1,152.0 234.1,151.8 236.1,151.5 238.1,151.2 240.1,150.9 242.1,150.5 244.1,150.2 246.1,149.9 248.1,149.5 250.1,149.1 252.1,148.8 254.1,148.4 256.1,147.9 258.1,147.5 260.1,147.1 262.1,146.6 264.1,146.2 266.1,145.7 268.1,145.2 270.1,144.7 272.1,144.2 274.1,143.7 276.1,143.1 278.1,142.6 280.1,142.0 282.1,141.5 284.1,140.9 286.1,140.3 288.1,139.7 290.1,139.1 292.1,138.5 294.1,137.8 296.1,137.2 298.1,136.5 300.1,135.9 302.1,135.2 304.1,134.6 306.1,133.9 308.1,133.2 310.1,132.5 312.1,131.8 314.1,131.1 316.1,130.4 318.1,129.7 320.1,129.0 322.1,128.2 324.1,127.5 326.1,126.8 328.1,126.1 330.1,125.4 332.1,124.7 334.1,123.9 336.1,123.2 338.1,122.5 340.1,121.8 342.1,121.1 344.1,120.4 346.1,119.7 348.1,119.0 350.1,118.3 352.1,117.6 354.1,116.9 356.1,116.3 358.1,115.6 360.1,115.0 362.1,114.3 364.1,113.7 366.1,113.1 368.1,112.5 370.1,111.9 372.1,111.3 374.1,110.7 376.1,110.2 378.1,109.7 380.1,109.1 382.1,108.6 384.1,108.1 386.1,107.7 388.1,107.2 390.1,106.7 392.1,106.3 394.1,105.9 396.1,105.5 398.1,105.1 400.1,104.7 402.1,104.4 404.1,104.0 406.1,103.7 408.1,103.3 410.1,103.0 412.1,102.7 414.1,102.4 416.1,102.2 418.1,101.9 420.1,101.7 422.1,101.4 424.1,101.2 426.1,101.0 428.1,100.8 430.1,100.6 432.1,100.4 434.1,100.2 436.1,100.0 438.1,99.9 440.1,99.7 442.1,99.6 444.1,99.4 446.1,99.3 448.1,99.2 450.1,99.1 452.1,99.0 454.1,98.9 456.1,98.8 458.1,98.8 460.1,98.7 462.1,98.6 464.1,98.6 466.1,98.5 468.1,98.5 470.1,98.5 472.1,98.4 474.1,98.4 476.1,98.4 478.1,98.4 480.1,98.4 482.1,98.4 484.1,98.4 486.1,98.4 488.1,98.4 490.1,98.4 492.1,98.5 494.1,98.5 496.1,98.5 498.1,98.5 500.1,98.6 502.1,98.6 504.1,98.6 506.1,98.7 508.1,98.7 510.1,98.8 512.0,98.8 514.0,98.9 516.0,98.9" stroke="#ff0000" stroke-width="2.5" stroke-dasharray="8.66 3.4"/>
<path d="M60.0,165.0 62.0,164.2 64.0,163.3 66.0,162.5 68.0,161.7 70.0,161.0 72.0,160.2 74.0,159.5 76.0,158.8 78.0,158.2 80.0,157.5 82.0,156.9 84.0,156.3 86.0,155.8 88.0,155.2 90.0,154.7 92.0,154.2 94.0,153.7 96.0,153.2 98.0,152.8 100.0,152.3 102.0,151.9 104.0,151.5 106.0,151.2 108.0,150.8 110.0,150.4 112.0,150.1 114.0,149.8 116.0,149.5 118.0,149.2 120.0,148.9 122.0,148.6 124.0,148.4 126.0,148.1 128.1,147.9 130.1,147.7 132.1,147.4 134.1,147.2 136.1,147.0 138.1,146.8 140.1,146.6 142.1,146.5 144.1,146.3 146.1,146.1 148.1,145.9 150.1,145.8 152.1,145.6 154.1,145.4 156.1,145.3 158.1,145.1 160.1,145.0 162.1,144.8 164.1,144.7 166.1,144.5 168.1,144.4 170.1,144.2 172.1,144.0 174.1,143.9 176.1,143.7 178.1,143.5 180.1,143.3 182.1,143.1 184.1,143.0 186.1,142.8 188.1,142.6 190.1,142.3 192.1,142.1 194.1,141.9 196.1,141.6 198.1,141.4 200.1,141.1 202.1,140.9 204.1,140.6 206.1,140.3 208.1,140.0 210.1,139.7 212.1,139.3 214.1,139.0 216.1,138.6 218.1,138.2 220.1,137.8 222.1,137.4 224.1,137.0 226.1,136.6 228.1,136.1 230.1,135.6 232.1,135.1 234.1,134.6 236.1,134.0 238.1,133.5 240.1,132.9 242.1,132.3 244.1,131.6 246.1,131.0 248.1,130.3 250.1,129.6 252.1,128.9 254.1,128.2 256.1,127.4 258.1,126.6 260.1,125.8 262.1,125.0 264.1,124.2 266.1,123.3 268.1,122.4 270.1,121.5 272.1,120.6 274.1,119.6 276.1,118.7 278.1,117.7 280.1,116.7 282.1,115.6 284.1,114.6 286.1,113.5 288.1,112.4 290.1,111.2 292.1,110.1 294.1,108.9 296.1,107.7 298.1,106.4 300.1,105.2 302.1,103.9 304.1,102.6 306.1,101.3 308.1,99.9 310.1,98.6 312.1,97.2 314.1,95.8 316.1,94.4 318.1,93.0 320.1,91.6 322.1,90.2 324.1,88.8 326.1,87.4 328.1,86.0 330.1,84.6 332.1,83.2 334.1,81.8 336.1,80.5 338.1,79.2 340.1,77.8 342.1,76.5 344.1,75.3 346.1,74.0 348.1,72.8 350.1,71.6 352.1,70.4 354.1,69.2 356.1,68.0 358.1,66.9 360.1,65.8 362.1,64.7 364.1,63.6 366.1,62.5 368.1,61.4 370.1,60.4 372.1,59.4 374.1,58.4 376.1,57.4 378.1,56.4 380.1,55.5 382.1,54.5 384.1,53.6 386.1,52.8 388.1,51.9 390.1,51.0 392.1,50.2 394.1,49.4 396.1,48.6 398.1,47.8 400.1,47.1 402.1,46.4 404.1,45.7 406.1,45.0 408.1,44.3 410.1,43.7 412.1,43.0 414.1,42.4 416.1,41.9 418.1,41.3 420.1,40.7 422.1,40.2 424.1,39.7 426.1,39.2 428.1,38.7 430.1,38.3 432.1,37.8 434.1,37.4 436.1,37.0 438.1,36.6 440.1,36.2 442.1,35.9 444.1,35.5 446.1,35.2 448.1,34.9 450.1,34.6 452.1,34.3 454.1,34.0 456.1,33.8 458.1,33.5 460.1,33.3 462.1,33.0 464.1,32.8 466.1,32.6 468.1,32.4 470.1,32.3 472.1,32.1 474.1,32.0 476.1,31.8 478.1,31.7 480.1,31.6 482.1,31.4 484.1,31.3 486.1,31.2 488.1,31.1 490.1,31.1 492.1,31.0 494.1,30.9 496.1,30.9 498.1,30.8 500.1,30.8 502.1,30.7 504.1,30.7 506.1,30.7 508.1,30.7 510.1,30.7 512.0,30.7 514.0,30.6 516.0,30.7" stroke="#000" stroke-width="1"/>
<path d="M60.0,158.0 62.0,157.2 64.0,156.5 66.0,155.8 68.0,155.1 70.0,154.5 72.0,153.8 74.0,153.2 76.0,152.6 78.0,152.1 80.0,151.5 82.0,151.0 84.0,150.5 86.0,150.0 88.0,149.5 90.0,149.0 92.0,148.6 94.0,148.2 96.0,147.8 98.0,147.4 100.0,147.0 102.0,146.7 104.0,146.3 106.0,146.0 108.0,145.7 110.0,145.4 112.0,145.1 114.0,144.8 116.0,144.5 118.0,144.3 120.0,144.0 122.0,143.8 124.0,143.5 126.0,143.3 128.1,143.1 130.1,142.9 132.1,142.7 134.1,142.5 136.1,142.4 138.1,142.2 140.1,142.0 142.1,141.8 144.1,141.7 146.1,141.5 148.1,141.4 150.1,141.2 152.1,141.1 154.1,140.9 156.1,140.8 158.1,140.7 160.1,140.5 162.1,140.4 164.1,140.2 166.1,140.1 168.1,139.9 170.1,139.8 172.1,139.7 174.1,139.5 176.1,139.4 178.1,139.2 180.1,139.0 182.1,138.9 184.1,138.7 186.1,138.5 188.1,138.3 190.1,138.1 192.1,137.9 194.1,137.7 196.1,137.5 198.1,137.3 200.1,137.0 202.1,136.8 204.1,136.5 206.1,136.3 208.1,136.0 210.1,135.7 212.1,135.4 214.1,135.1 216.1,134.8 218.1,134.4 220.1,134.1 222.1,133.7 224.1,133.3 226.1,132.9 228.1,132.5 230.1,132.1 232.1,131.6 234.1,131.1 236.1,130.6 238.1,130.1 240.1,129.6 242.1,129.0 244.1,128.5 246.1,127.9 248.1,127.3 250.1,126.6 252.1,126.0 254.1,125.3 256.1,124.6 258.1,123.8 260.1,123.1 262.1,122.3 264.1,121.4 266.1,120.6 268.1,119.7 270.1,118.8 272.1,117.9 274.1,116.9 276.1,115.9 278.1,114.9 280.1,113.9 282.1,112.8 284.1,111.7 286.1,110.6 288.1,109.4 290.1,108.2 292.1,107.0 294.1,105.8 296.1,104.6 298.1,103.3 300.1,102.0 302.1,100.7 304.1,99.4 306.1,98.0 308.1,96.6 310.1,95.3 312.1,93.9 314.1,92.5 316.1,91.1 318.1,89.7 320.1,88.2 322.1,86.8 324.1,85.4 326.1,84.0 328.1,82.6 330.1,81.2 332.1,79.8 334.1,78.4 336.1,77.0 338.1,75.7 340.1,74.3 342.1,72.9 344.1,71.6 346.1,70.2 348.1,68.9 350.1,67.6 352.1,66.3 354.1,65.0 356.1,63.7 358.1,62.5 360.1,61.2 362.1,60.0 364.1,58.7 366.1,57.5 368.1,56.3 370.1,55.2 372.1,54.0 374.1,52.9 376.1,51.7 378.1,50.6 380.1,49.5 382.1,48.5 384.1,47.4 386.1,46.4 388.1,45.4 390.1,44.4 392.1,43.5 394.1,42.5 396.1,41.6 398.1,40.7 400.1,39.8 402.1,39.0 404.1,38.2 406.1,37.4 408.1,36.6 410.1,35.9 412.1,35.2 414.1,34.5 416.1,33.8 418.1,33.1 420.1,32.5 422.1,31.9 424.1,31.3 426.1,30.7 428.1,30.2 430.1,29.7 432.1,29.2 434.1,28.7 436.1,28.2 438.1,27.8 440.1,27.3 442.1,26.9 444.1,26.5 446.1,26.2 448.1,25.8 450.1,25.5 452.1,25.1 454.1,24.8 456.1,24.5 458.1,24.3 460.1,24.0 462.1,23.8 464.1,23.5 466.1,23.3 468.1,23.1 470.1,22.9 472.1,22.8 474.1,22.6 476.1,22.4 478.1,22.3 480.1,22.2 482.1,22.1 484.1,22.0 486.1,21.9 488.1,21.8 490.1,21.7 492.1,21.7 494.1,21.6 496.1,21.6 498.1,21.5 500.1,21.5 502.1,21.5 504.1,21.5 506.1,21.5 508.1,21.5 510.1,21.5 512.0,21.6 514.0,21.6 516.0,21.6" stroke="#000" stroke-width="2.5"/>
<path d="M60.0,171.5 62.0,170.5 64.0,169.5 66.0,168.5 68.0,167.6 70.0,166.7 72.0,165.9 74.0,165.1 76.0,164.3 78.0,163.5 80.0,162.8 82.0,162.1 84.0,161.4 86.0,160.7 88.0,160.1 90.0,159.5 92.0,158.9 94.0,158.4 96.0,157.8 98.0,157.3 100.0,156.8 102.0,156.3 104.0,155.9 106.0,155.5 108.0,155.0 110.0,154.6 112.0,154.3 114.0,153.9 116.0,153.5 118.0,153.2 120.0,152.9 122.0,152.6 124.0,152.3 126.0,152.0 128.1,151.7 130.1,151.5 132.1,151.2 134.1,151.0 136.1,150.8 138.1,150.5 140.1,150.3 142.1,150.1 144.1,149.9 146.1,149.7 148.1,149.5 150.1,149.3 152.1,149.1 154.1,149.0 156.1,148.8 158.1,148.6 160.1,148.4 162.1,148.3 164.1,148.1 166.1,147.9 168.1,147.7 170.1,147.6 172.1,147.4 174.1,147.2 176.1,147.0 178.1,146.8 180.1,146.6 182.1,146.4 184.1,146.2 186.1,146.0 188.1,145.8 190.1,145.6 192.1,145.3 194.1,145.1 196.1,144.8 198.1,144.6 200.1,144.3 202.1,144.0 204.1,143.7 206.1,143.4 208.1,143.1 210.1,142.7 212.1,142.4 214.1,142.0 216.1,141.6 218.1,141.2 220.1,140.8 222.1,140.4 224.1,139.9 226.1,139.4 228.1,138.9 230.1,138.4 232.1,137.9 234.1,137.3 236.1,136.8 238.1,136.2 240.1,135.5 242.1,134.9 244.1,134.2 246.1,133.5 248.1,132.8 250.1,132.1 252.1,131.3 254.1,130.6 256.1,129.8 258.1,129.0 260.1,128.1 262.1,127.3 264.1,126.5 266.1,125.6 268.1,124.7 270.1,123.8 272.1,122.9 274.1,122.0 276.1,121.1 278.1,120.2 280.1,119.2 282.1,118.2 284.1,117.2 286.1,116.2 288.1,115.1 290.1,114.0 292.1,112.9 294.1,111.7 296.1,110.5 298.1,109.3 300.1,108.0 302.1,106.7 304.1,105.3 306.1,103.9 308.1,102.5 310.1,101.0 312.1,99.6 314.1,98.1 316.1,96.7 318.1,95.2 320.1,93.8 322.1,92.4 324.1,91.0 326.1,89.6 328.1,88.3 330.1,87.0 332.1,85.7 334.1,84.5 336.1,83.3 338.1,82.1 340.1,80.9 342.1,79.7 344.1,78.6 346.1,77.4 348.1,76.3 350.1,75.2 352.1,74.1 354.1,73.0 356.1,71.9 358.1,70.8 360.1,69.8 362.1,68.7 364.1,67.7 366.1,66.7 368.1,65.7 370.1,64.7 372.1,63.7 374.1,62.8 376.1,61.8 378.1,60.9 380.1,60.1 382.1,59.2 384.1,58.4 386.1,57.6 388.1,56.8 390.1,56.0 392.1,55.3 394.1,54.6 396.1,53.9 398.1,53.2 400.1,52.5 402.1,51.9 404.1,51.3 406.1,50.7 408.1,50.1 410.1,49.5 412.1,48.9 414.1,48.4 416.1,47.9 418.1,47.4 420.1,46.9 422.1,46.4 424.1,45.9 426.1,45.4 428.1,45.0 430.1,44.5 432.1,44.1 434.1,43.7 436.1,43.3 438.1,43.0 440.1,42.6 442.1,42.3 444.1,42.0 446.1,41.7 448.1,41.4 450.1,41.1 452.1,40.9 454.1,40.6 456.1,40.4 458.1,40.2 460.1,40.0 462.1,39.8 464.1,39.7 466.1,39.5 468.1,39.4 470.1,39.2 472.1,39.1 474.1,39.0 476.1,38.9 478.1,38.8 480.1,38.7 482.1,38.7 484.1,38.6 486.1,38.5 488.1,38.5 490.1,38.4 492.1,38.4 494.1,38.3 496.1,38.3 498.1,38.3 500.1,38.2 502.1,38.2 504.1,38.2 506.1,38.2 508.1,38.1 510.1,38.1 512.0,38.1 514.0,38.1 516.0,38.0" stroke="#000" stroke-width="2.5"/>
</g>
<rect x="60.0" y="1.1" width="455.9" height="282.3" fill="none" stroke="#000" stroke-width="1.5"/>
<path d="M60.05,283.35v-3.20 M60.05,1.09v3.20 M85.38,283.35v-3.20 M85.38,1.09v3.20 M110.71,283.35v-3.20 M110.71,1.09v3.20 M136.04,283.35v-5.60 M136.04,1.09v5.60 M161.37,283.35v-3.20 M161.37,1.09v3.20 M186.70,283.35v-3.20 M186.70,1.09v3.20 M212.03,283.35v-3.20 M212.03,1.09v3.20 M237.36,283.35v-3.20 M237.36,1.09v3.20 M262.69,283.35v-5.60 M262.69,1.09v5.60 M288.02,283.35v-3.20 M288.02,1.09v3.20 M313.36,283.35v-3.20 M313.36,1.09v3.20 M338.69,283.35v-3.20 M338.69,1.09v3.20 M364.02,283.35v-3.20 M364.02,1.09v3.20 M389.35,283.35v-5.60 M389.35,1.09v5.60 M414.68,283.35v-3.20 M414.68,1.09v3.20 M440.01,283.35v-3.20 M440.01,1.09v3.20 M465.34,283.35v-3.20 M465.34,1.09v3.20 M490.67,283.35v-3.20 M490.67,1.09v3.20 M516.00,283.35v-5.60 M516.00,1.09v5.60 M60.05,283.35h5.60 M516.00,283.35h-5.60 M60.05,270.52h3.20 M516.00,270.52h-3.20 M60.05,257.69h3.20 M516.00,257.69h-3.20 M60.05,244.86h3.20 M516.00,244.86h-3.20 M60.05,232.03h5.60 M516.00,232.03h-5.60 M60.05,219.20h3.20 M516.00,219.20h-3.20 M60.05,206.37h3.20 M516.00,206.37h-3.20 M60.05,193.54h3.20 M516.00,193.54h-3.20 M60.05,180.71h5.60 M516.00,180.71h-5.60 M60.05,167.88h3.20 M516.00,167.88h-3.20 M60.05,155.05h3.20 M516.00,155.05h-3.20 M60.05,142.22h3.20 M516.00,142.22h-3.20 M60.05,129.39h5.60 M516.00,129.39h-5.60 M60.05,116.56h3.20 M516.00,116.56h-3.20 M60.05,103.73h3.20 M516.00,103.73h-3.20 M60.05,90.90h3.20 M516.00,90.90h-3.20 M60.05,78.07h5.60 M516.00,78.07h-5.60 M60.05,65.24h3.20 M516.00,65.24h-3.20 M60.05,52.41h3.20 M516.00,52.41h-3.20 M60.05,39.58h3.20 M516.00,39.58h-3.20 M60.05,26.75h5.60 M516.00,26.75h-5.60 M60.05,13.92h3.20 M516.00,13.92h-3.20 M60.05,1.09h3.20 M516.00,1.09h-3.20 " stroke="#000" stroke-width="1.2" fill="none"/>
<path d="M92.2,58.4H128.3" stroke="#000" stroke-width="2.5"/>
<path d="M92.2,79.8H125.2" stroke="#f00" stroke-width="2.5" stroke-dasharray="8.66 3.4"/>
<path d="M92.2,101.1H127" stroke="#00f" stroke-width="2.6" stroke-dasharray="4 3.6"/>
<path d="M228.8,25.2H238.2M228.8,28.5H238.2M291.6,25.2H300.9M291.6,28.5H300.9" stroke="#000" stroke-width="0.95"/>
</svg>
<div class="t yl" style="top:274.71px;font-size:17.0px">0.8</div>
<div class="t yl" style="top:223.39px;font-size:17.0px">1.0</div>
<div class="t yl" style="top:172.07px;font-size:17.0px">1.2</div>
<div class="t yl" style="top:120.75px;font-size:17.0px">1.4</div>
<div class="t yl" style="top:69.43px;font-size:17.0px">1.6</div>
<div class="t yl" style="top:18.11px;font-size:17.0px">1.8</div>
<div class="t xl" style="left:106.04px;top:288.76px;font-size:17.0px">500</div>
<div class="t xl" style="left:232.69px;top:288.76px;font-size:17.0px">1000</div>
<div class="t xl" style="left:359.35px;top:288.76px;font-size:17.0px">1500</div>
<div class="t xl" style="left:486.00px;top:288.76px;font-size:17.0px">2000</div>
<div class="t" style="left:214.80px;top:16.96px;font-size:17.00px;"><i>d</i></div>
<div class="t" style="left:240.00px;top:16.96px;font-size:17.00px;">3</div>
<div class="t" style="left:265.00px;top:16.96px;font-size:17.00px;"><i>M</i></div>
<div class="t" style="left:280.90px;top:25.15px;font-size:12.00px;"><i>S</i></div>
<div class="t" style="left:304.00px;top:16.96px;font-size:17.00px;">3.8</div>
<div class="t" style="left:333.00px;top:16.96px;font-size:17.00px;letter-spacing:-0.6px;">TeV</div>
<div class="t" style="left:256.00px;top:315.16px;font-size:17.00px;">Q</div>
<div class="t" style="left:272.50px;top:315.16px;font-size:17.00px;">[</div>
<div class="t" style="left:283.00px;top:315.16px;font-size:17.00px;letter-spacing:-1.2px;">GeV</div>
<div class="t" style="left:313.50px;top:315.16px;font-size:17.00px;">]</div>
<div class="t" style="left:0;top:0;font-size:17.0px;transform-origin:0 0;transform:translate(4.96px,172.80px) rotate(-90deg);letter-spacing:0.3px;word-spacing:2.00px">K factor</div>
<div class="t" style="left:137.60px;top:52.04px;font-size:15.00px;transform:scaleX(0.875);transform-origin:0 0;">NNLO</div>
<div class="t" style="left:137.60px;top:73.24px;font-size:15.00px;transform:scaleX(0.875);transform-origin:0 0;">NLO</div>
<div class="t" style="left:137.60px;top:94.94px;font-size:15.00px;transform:scaleX(0.875);transform-origin:0 0;letter-spacing:-1px;">LO</div>
</body></html>
